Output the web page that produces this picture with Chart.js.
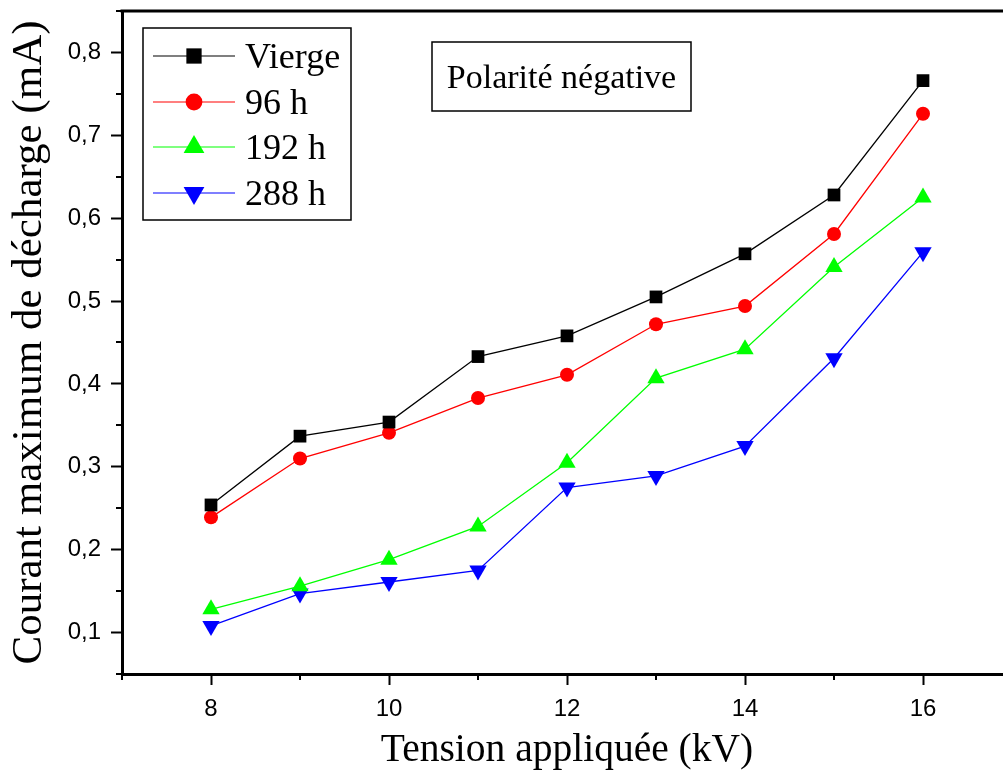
<!DOCTYPE html>
<html>
<head>
<meta charset="utf-8">
<script src="https://cdn.jsdelivr.net/npm/chart.js@4/dist/chart.umd.min.js"></script>
<style>
  html, body { margin: 0; padding: 0; background: #fff; overflow: hidden; }
  #wrap { width: 1022px; height: 780px; }
</style>
</head>
<body>
<div id="wrap"><canvas id="chart" width="1022" height="780"></canvas></div>
<script>
    const xValues = [8, 9, 10, 11, 12, 13, 14, 15, 16];
    const vierge = [0.254, 0.337, 0.354, 0.433, 0.458, 0.505, 0.557, 0.628, 0.766];
    const h96 = [0.239, 0.310, 0.341, 0.383, 0.411, 0.472, 0.494, 0.581, 0.726];
    const h192 = [0.128, 0.156, 0.188, 0.228, 0.305, 0.407, 0.442, 0.541, 0.625];
    const h288 = [0.108, 0.147, 0.161, 0.175, 0.275, 0.289, 0.325, 0.431, 0.559];

    const seriesNames = ['Vierge', '96 h', '192 h', '288 h'];
    const xTickValues = [8, 10, 12, 14, 16];
    const xTickLabels = ['8', '10', '12', '14', '16'];
    const xMinorTicks = [7, 9, 11, 13, 15, 17];
    const yTickValues = [0.1, 0.2, 0.3, 0.4, 0.5, 0.6, 0.7, 0.8];
    const yTickLabels = ['0,1', '0,2', '0,3', '0,4', '0,5', '0,6', '0,7', '0,8'];
    const yMinorTicks = [0.05, 0.15, 0.25, 0.35, 0.45, 0.55, 0.65, 0.75, 0.85];
    const annotationText = 'Polarité négative';
    const xTitle = 'Tension appliquée (kV)';
    const yTitle = 'Courant maximum de décharge (mA)';

    const serif = '"Liberation Serif", "Times New Roman", serif';
    const sans = '"Liberation Sans", Arial, sans-serif';

    function toPoints(ys) {
        return xValues.map((x, i) => ({ x: x, y: ys[i] }));
    }

    const styles = [
        { color: '#000000', pointStyle: 'rect', radius: 9, rotation: 0 },
        { color: '#ff0000', pointStyle: 'circle', radius: 7, rotation: 0 },
        { color: '#00ff00', pointStyle: 'triangle', radius: 10, rotation: 0 },
        { color: '#0000ff', pointStyle: 'triangle', radius: 10, rotation: 180 }
    ];
    const allSeries = [vierge, h96, h192, h288];

    const datasets = allSeries.map((ys, i) => ({
        label: seriesNames[i],
        data: toPoints(ys),
        borderColor: styles[i].color,
        backgroundColor: styles[i].color,
        borderWidth: 1.3,
        pointStyle: styles[i].pointStyle,
        pointRadius: styles[i].radius,
        pointRotation: styles[i].rotation,
        pointBorderWidth: 0,
        pointBackgroundColor: styles[i].color,
        tension: 0
    }));

    function drawMarker(ctx, st, x, y, r) {
        ctx.save();
        ctx.fillStyle = st.color;
        ctx.beginPath();
        if (st.pointStyle === 'rect') {
            const s = r * Math.SQRT1_2;
            ctx.rect(x - s, y - s, 2 * s, 2 * s);
        } else if (st.pointStyle === 'circle') {
            ctx.arc(x, y, r, 0, Math.PI * 2);
        } else {
            const dir = st.rotation === 180 ? -1 : 1;
            const w = r * Math.sqrt(3) / 2;
            ctx.moveTo(x, y - dir * r);
            ctx.lineTo(x + w, y + dir * r / 2);
            ctx.lineTo(x - w, y + dir * r / 2);
            ctx.closePath();
        }
        ctx.fill();
        ctx.restore();
    }

    const framePlugin = {
        id: 'frame',
        afterDraw(chart) {
            const ctx = chart.ctx;
            const area = chart.chartArea;
            const xs = chart.scales.x;
            const ys = chart.scales.y;
            ctx.save();
            ctx.strokeStyle = '#000';
            ctx.lineWidth = 3;
            ctx.beginPath();
            ctx.moveTo(area.left - 1.5, area.top);
            ctx.lineTo(area.right, area.top);
            ctx.lineTo(area.right, area.bottom);
            ctx.stroke();

            // minor ticks
            ctx.lineWidth = 2;
            ctx.beginPath();
            xMinorTicks.forEach(v => {
                const px = Math.round(xs.getPixelForValue(v));
                ctx.moveTo(px, area.bottom);
                ctx.lineTo(px, area.bottom + 6);
            });
            yMinorTicks.forEach(v => {
                const py = Math.round(ys.getPixelForValue(v));
                ctx.moveTo(area.left, py);
                ctx.lineTo(area.left - 6, py);
            });
            ctx.stroke();

            // legend
            ctx.lineWidth = 1.5;
            ctx.strokeRect(143, 28, 208, 192);
            const rows = [56, 102, 147, 193];
            ctx.font = '36px ' + serif;
            ctx.textBaseline = 'alphabetic';
            ctx.textAlign = 'left';
            chart.data.datasets.forEach((ds, i) => {
                const y = rows[i];
                ctx.strokeStyle = styles[i].color;
                ctx.lineWidth = 1.2;
                ctx.beginPath();
                ctx.moveTo(153, y);
                ctx.lineTo(235, y);
                ctx.stroke();
                drawMarker(ctx, styles[i], 194, y, styles[i].radius * 1.2);
                ctx.fillStyle = '#000';
                ctx.fillText(ds.label, 245, y + 12);
            });

            // annotation
            ctx.strokeStyle = '#000';
            ctx.lineWidth = 1.5;
            ctx.strokeRect(432, 42, 259, 69);
            ctx.fillStyle = '#000';
            ctx.font = '34px ' + serif;
            ctx.textAlign = 'center';
            ctx.fillText(annotationText, 561.5, 88);
            ctx.restore();
        }
    };

    new Chart(document.getElementById('chart'), {
        type: 'line',
        data: { datasets: datasets },
        options: {
            responsive: false,
            animation: false,
            layout: { padding: { top: 11, right: 5, left: 0, bottom: 0 } },
            plugins: {
                legend: { display: false },
                tooltip: { enabled: false }
            },
            scales: {
                x: {
                    type: 'linear',
                    min: 7,
                    max: 17,
                    afterBuildTicks: scale => {
                        scale.ticks = xTickValues.map(v => ({ value: v }));
                    },
                    afterFit: scale => {
                        scale.height = 106;
                        scale.paddingLeft = 0;
                        scale.paddingRight = 0;
                    },
                    ticks: {
                        color: '#000',
                        font: { family: sans, size: 24 },
                        padding: 10,
                        maxRotation: 0,
                        callback: (value, index) => xTickLabels[index]
                    },
                    grid: {
                        drawOnChartArea: false,
                        drawTicks: true,
                        tickLength: 11,
                        tickWidth: 2,
                        tickColor: '#000'
                    },
                    border: { display: true, width: 3, color: '#000' },
                    title: {
                        display: true,
                        text: xTitle,
                        color: '#000',
                        font: { family: serif, size: 39.5 },
                        padding: { top: 0, bottom: 6 }
                    }
                },
                y: {
                    type: 'linear',
                    min: 0.05,
                    max: 0.85,
                    afterBuildTicks: scale => {
                        scale.ticks = yTickValues.map(v => ({ value: v }));
                    },
                    afterFit: scale => {
                        scale.width = 122;
                        scale.paddingTop = 0;
                        scale.paddingBottom = 0;
                    },
                    ticks: {
                        color: '#000',
                        font: { family: sans, size: 24 },
                        padding: 10,
                        callback: (value, index) => yTickLabels[index]
                    },
                    grid: {
                        drawOnChartArea: false,
                        drawTicks: true,
                        tickLength: 11,
                        tickWidth: 2,
                        tickColor: '#000'
                    },
                    border: { display: true, width: 3, color: '#000' },
                    title: {
                        display: true,
                        text: yTitle,
                        color: '#000',
                        font: { family: serif, size: 43 },
                        padding: { top: 4, bottom: 0 }
                    }
                }
            }
        },
        plugins: [framePlugin]
    });
</script>
</body>
</html>
